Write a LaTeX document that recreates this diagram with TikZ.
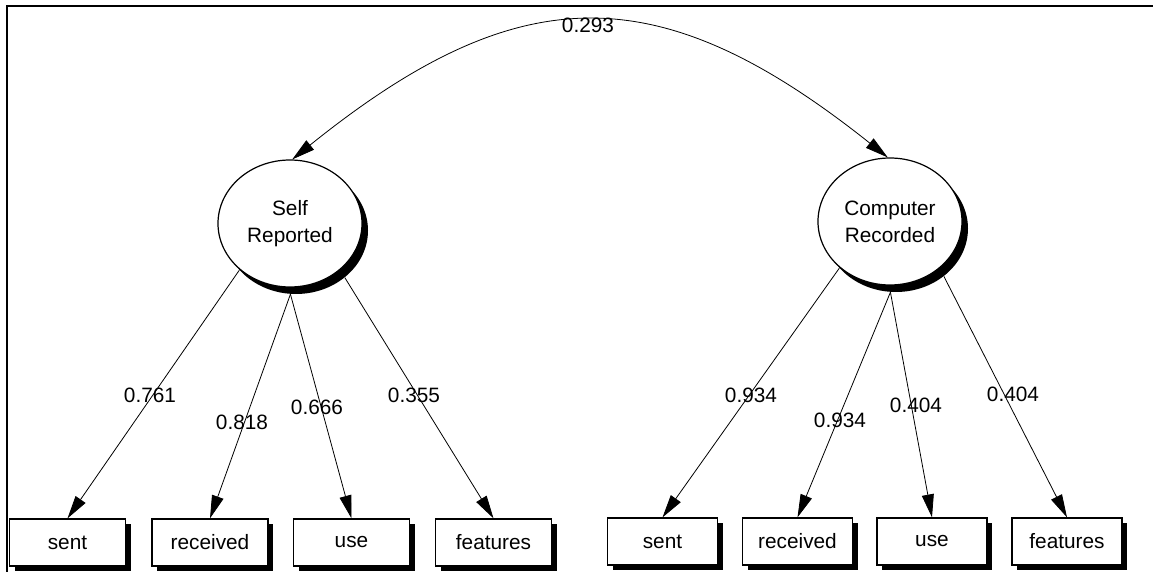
\documentclass[tikz,border=0pt]{standalone}
\usepackage{fontspec}
\setmainfont{Liberation Sans}
\usetikzlibrary{arrows.meta,shapes.geometric,shadows}

\begin{document}
\begin{tikzpicture}[x=0.5pt, y=-0.5pt,
  lbl/.style={font=\fontsize{10.4}{12}\selectfont, inner sep=1pt},
  latv/.style={ellipse, draw, line width=0.6pt, fill=white, minimum width=72pt, minimum height=63.5pt, inner sep=0pt, align=center, font=\fontsize{10.4}{13.5}\selectfont},
  latsh/.style={ellipse, fill=black, minimum width=72pt, minimum height=63.5pt, inner sep=0pt},
  obsv/.style={rectangle, draw, line width=0.6pt, fill=white, minimum height=23.5pt, inner sep=0pt, font=\fontsize{10.4}{12}\selectfont, drop shadow={shadow xshift=2.5pt, shadow yshift=-2.5pt, opacity=1, fill=black}},
  load/.style={line width=0.4pt, -{Triangle[length=11.5pt,width=6pt]}},
  corr/.style={line width=0.4pt, {Triangle[length=11.5pt,width=6pt]}-{Triangle[length=11.5pt,width=6pt]}}
]
\useasboundingbox (0,0) rectangle (1153,572);

% frame
\draw[line width=1.3pt] (7,572) -- (7,6) -- (1153,6);

% latent variables
\node[latsh] (nsrsh) at (296,230.5) {};
\node[latv] (nsr) at (290,223.5) {Self\\Reported};
\node[latsh] (ncrsh) at (896,228.5) {};
\node[latv] (ncr) at (890,221.5) {Computer\\Recorded};

% observed variables
\node[obsv, minimum width=58pt] (ns1) at (67.5,542.5) {sent};
\node[obsv, minimum width=58pt] (ns2) at (210,542.5) {received};
\node[obsv, minimum width=58pt] (ns3) at (351.5,542.5) {use};
\node[obsv, minimum width=58pt] (ns4) at (493.5,542.5) {features};
\node[obsv, minimum width=55pt] (nc1) at (662.5,541.5) {sent};
\node[obsv, minimum width=55pt] (nc2) at (797.5,541.5) {received};
\node[obsv, minimum width=55pt] (nc3) at (932,541.5) {use};
\node[obsv, minimum width=55pt] (nc4) at (1067,541.5) {features};

% loadings
\draw[load] (nsrsh.215) -- (ns1.north);
\draw[load] (nsrsh.265) -- (ns2.north);
\draw[load] (nsrsh.265) -- (ns3.north);
\draw[load] (nsrsh.316) -- (ns4.north);
\draw[load] (ncrsh.215) -- (nc1.north);
\draw[load] (ncrsh.265) -- (nc2.north);
\draw[load] (ncrsh.265) -- (nc3.north);
\draw[load] (ncrsh.315) -- (nc4.north);

% correlation
\draw[corr] (nsr.88) .. controls (520,-24) and (660,-24) .. (ncr.92);

\node[lbl] (l0) at (588,25) {0.293};
\node[lbl] (l1) at (150,395) {0.761};
\node[lbl] (l2) at (242,422) {0.818};
\node[lbl] (l3) at (317,407) {0.666};
\node[lbl] (l4) at (414,395) {0.355};
\node[lbl] (l5) at (751,395) {0.934};
\node[lbl] (l6) at (840,420) {0.934};
\node[lbl] (l7) at (916,405) {0.404};
\node[lbl] (l8) at (1013,394) {0.404};

\end{tikzpicture}
\end{document}
